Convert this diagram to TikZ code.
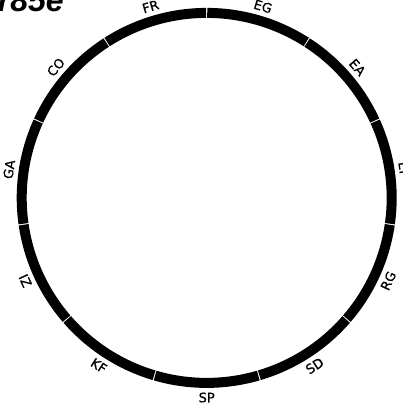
\documentclass[tikz,border=0pt]{standalone}
\usepackage{fontspec}
\setmainfont{DejaVu Sans}
\newfontfamily\labelfont[FakeBold=0.8]{DejaVu Sans}
\newfontfamily\titlefont{Liberation Sans}

\begin{document}
\begin{tikzpicture}[
        x=1pt, y=1pt,
        segment/.style={line width=10pt, black},
        sectorlabel/.style={font=\labelfont\fontsize{13}{14}\selectfont, inner sep=0pt},
        titletext/.style={font=\titlefont\fontsize{32}{32}\selectfont\bfseries\itshape, inner sep=0pt, anchor=base west}
    ]
        \useasboundingbox (-206.7,-214.1) rectangle (196.3,197.9);
        \clip (-206.7,-214.1) rectangle (196.3,197.9);
        \node[titletext] (title) at (-209,186) {r85e};
        % ring of sectors, clockwise from the top
        \foreach \name [count=\i from 0] in {EG,EA,EF,RG,SD,SP,KF,IZ,GA,CO,FR} {
            \pgfmathsetmacro{\startang}{90-\i*360/11-0.17}
            \pgfmathsetmacro{\endang}{90-(\i+1)*360/11+0.17}
            \pgfmathsetmacro{\midang}{90-(\i+0.5)*360/11}
            \pgfmathtruncatemacro{\upper}{sin(\midang)>=0 ? 1 : 0}
            \ifnum\upper=1
                \pgfmathsetmacro{\rot}{\midang-90}\def\anc{south}
            \else
                \pgfmathsetmacro{\rot}{\midang+90}\def\anc{north}
            \fi
            \draw[segment] (\startang:185) arc[start angle=\startang, end angle=\endang, radius=185];
            \node[sectorlabel, rotate=\rot, anchor=\anc] (lbl-\name) at (\midang:194.5) {\name};
        }
    \end{tikzpicture}
\end{document}
